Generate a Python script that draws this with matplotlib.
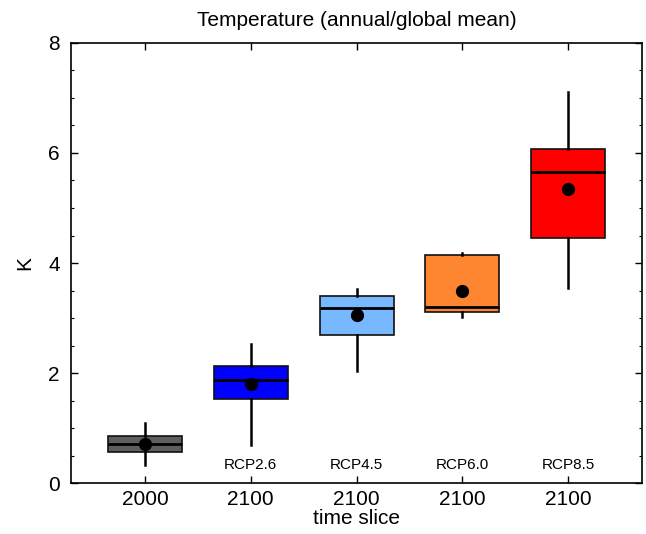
import numpy as np
import matplotlib
matplotlib.use("Agg")
import matplotlib.pyplot as plt
from matplotlib.ticker import MultipleLocator

plt.rcParams['font.family'] = ['Liberation Sans', 'DejaVu Sans']

# values (K)
tick_labels = ['2000', '2100', '2100', '2100', '2100']
scenarios = ['', 'RCP2.6', 'RCP4.5', 'RCP6.0', 'RCP8.5']
whis_lo = [0.33, 0.69, 2.04, 3.02, 3.54]
box_lo = [0.58, 1.54, 2.70, 3.12, 4.45]
medians = [0.71, 1.88, 3.18, 3.20, 5.66]
box_hi = [0.87, 2.13, 3.41, 4.15, 6.07]
whis_hi = [1.09, 2.53, 3.53, 4.18, 7.11]
means = [0.71, 1.81, 3.06, 3.49, 5.34]
colors = ['#5f5f5f', '#0000ff', '#78b8ff', '#ff8630', '#ff0000']

stats = []
for i in range(len(medians)):
    stats.append(dict(whislo=whis_lo[i], q1=box_lo[i], med=medians[i],
                      q3=box_hi[i], whishi=whis_hi[i], mean=means[i]))

fig = plt.figure(figsize=(6.46, 5.34), dpi=100)
ax = fig.add_axes([0.110, 0.0946, 0.8838, 0.8254])

pos = np.arange(1, len(medians) + 1)
bp = ax.bxp(stats, positions=pos, widths=0.7, patch_artist=True,
            showmeans=True, showfliers=False, showcaps=False,
            boxprops=dict(linewidth=1.2, edgecolor='#111111'),
            medianprops=dict(color='black', linewidth=2.0),
            whiskerprops=dict(color='black', linewidth=1.8),
            meanprops=dict(marker='o', markerfacecolor='black',
                           markeredgecolor='black', markersize=8.5))
for patch, c in zip(bp['boxes'], colors):
    patch.set_facecolor(c)

for x, s in zip(pos, scenarios):
    ax.text(x, 0.27, s, ha='center', va='baseline', fontsize=11)

ax.set_xlim(0.3, 5.7)
ax.set_ylim(0, 8)
ax.set_xticks(pos)
ax.set_xticklabels(tick_labels)
ax.yaxis.set_major_locator(MultipleLocator(2))
ax.yaxis.set_minor_locator(MultipleLocator(0.5))
ax.tick_params(which='both', direction='in', top=True, right=True, labelsize=15)
ax.tick_params(which='major', length=5, width=1)
ax.tick_params(which='minor', length=2.5, width=0.8)
ax.tick_params(axis='y', pad=8)
ax.tick_params(axis='x', pad=5)
for sp in ax.spines.values():
    sp.set_linewidth(1.2)

ax.set_title('Temperature (annual/global mean)', fontsize=15, pad=12)
ax.set_xlabel('time slice', fontsize=15, labelpad=0)
ax.set_ylabel('K', fontsize=15, labelpad=10)

fig.savefig('out.png', dpi=100)
